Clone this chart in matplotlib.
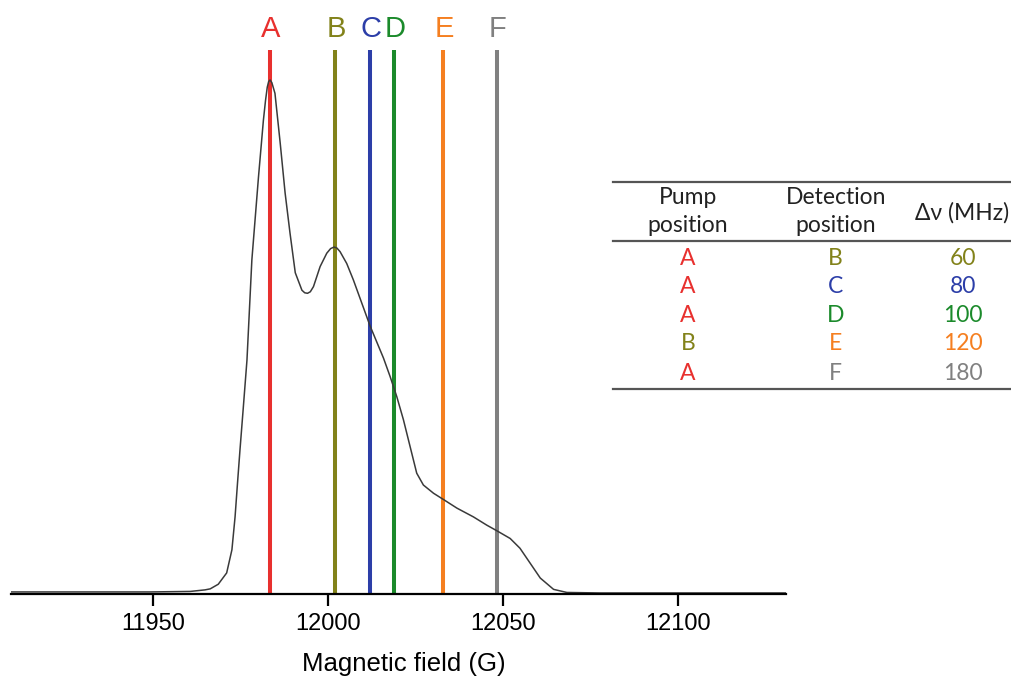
import matplotlib
matplotlib.use("Agg")
import matplotlib.pyplot as plt
from matplotlib.lines import Line2D

# EPR spectrum (field in G, normalised intensity)
field = [11909.4, 11934.9, 11949.2, 11960.7, 11964.9, 11966.4, 11968.7, 11971.1,
         11972.6, 11973.5, 11974.2, 11974.9, 11975.8, 11976.9, 11978.3, 11980.2,
         11981.6, 11982.2, 11982.7, 11983.1, 11983.5, 11984.0, 11984.9, 11986.4,
         11987.8, 11989.2, 11990.7, 11992.6, 11993.4, 11994.2, 11995.0, 11995.9,
         11997.8, 11999.7, 12000.8, 12001.8, 12002.6, 12003.5, 12005.4,
         12007.3, 12009.7, 12012.1, 12014.0, 12015.9, 12017.8, 12019.7, 12021.6,
         12023.5, 12025.4, 12027.3, 12030.2, 12033.0, 12036.9, 12041.6, 12045.4,
         12048.3, 12052.1, 12054.9, 12057.8, 12060.7, 12064.5, 12068.3, 12077.8,
         12130.9]
intensity = [0.004, 0.004, 0.004, 0.005, 0.008, 0.010, 0.019, 0.041,
             0.086, 0.150, 0.216, 0.280, 0.358, 0.455, 0.650, 0.812,
             0.922, 0.960, 0.986, 0.997, 1.000, 0.995, 0.974, 0.877,
             0.780, 0.702, 0.625, 0.591, 0.586, 0.585, 0.588, 0.598,
             0.637, 0.663, 0.672, 0.675, 0.673, 0.666, 0.643,
             0.611, 0.566, 0.521, 0.490, 0.459, 0.423, 0.384, 0.339,
             0.287, 0.235, 0.212, 0.196, 0.184, 0.167, 0.150, 0.134,
             0.123, 0.108, 0.089, 0.060, 0.031, 0.009, 0.003, 0.002,
             0.002]

# Pump / detection positions
pos_labels = ["A", "B", "C", "D", "E", "F"]
pos_fields = [11983.5, 12002.1, 12012.1, 12019.0, 12033.0, 12048.2]
pos_colors = ["#E8302E", "#82821A", "#2C3EA8", "#1B8A2B", "#F57F20", "#808080"]

xticks = [11950, 12000, 12050, 12100]

# Table contents
pump = ["A", "A", "A", "B", "A"]
detection = ["B", "C", "D", "E", "F"]
delta_nu = ["60", "80", "100", "120", "180"]

W, H = 1011, 684
fig = plt.figure(figsize=(W / 100, H / 100), dpi=100)

def fx(px):
    return px / W

def fy(py):
    return 1 - py / H

ax = fig.add_axes([fx(10.7), fy(594), fx(786) - fx(10.7), fy(20) - fy(594)])
ax.set_xlim(11909.4, 12130.9)
ax.set_ylim(0, 1.1167)

for lab, xf, col in zip(pos_labels, pos_fields, pos_colors):
    ax.vlines(xf, 0, 1.058, color=col, lw=2.9, zorder=2)
    ax.text(xf + 0.3, 1.10, lab, color=col, ha="center", va="center",
            fontsize=21, family="Liberation Sans")

ax.plot(field, intensity, color="#3a3a3a", lw=1.1, zorder=3)

for s in ["left", "right", "top"]:
    ax.spines[s].set_visible(False)
ax.spines["bottom"].set_linewidth(1.6)
ax.spines["bottom"].set_zorder(4)
ax.set_yticks([])
ax.set_xticks(xticks)
ax.set_xticklabels([str(t) for t in xticks], fontsize=17, family="Liberation Sans")
ax.tick_params(axis="x", length=8.5, width=1.6, pad=5, color="black")

fig.text(fx(404), fy(664), "Magnetic field (G)", ha="center", va="center",
         fontsize=18.5, family="Liberation Sans")

# Table rules
rule_kw = dict(color="#555555", lw=1.6, transform=fig.transFigure)
fig.add_artist(Line2D([fx(613), fx(1011)], [fy(181.7), fy(181.7)], **rule_kw))
fig.add_artist(Line2D([fx(613), fx(1011)], [fy(241), fy(241)], **rule_kw))
fig.add_artist(Line2D([fx(613), fx(1011)], [fy(389), fy(389)], **rule_kw))

tfont = dict(family="Lato", fontsize=16.5, ha="center", va="center")
col_x = [688, 835.7, 963]
fig.text(fx(col_x[0]), fy(198), "Pump", color="#222222", **tfont)
fig.text(fx(col_x[0]), fy(225), "position", color="#222222", **tfont)
fig.text(fx(col_x[1]), fy(198), "Detection", color="#222222", **tfont)
fig.text(fx(col_x[1]), fy(225), "position", color="#222222", **tfont)
fig.text(fx(1009), fy(213), "Δν (MHz)", color="#222222", family="Lato",
         fontsize=16.5, ha="right", va="center")

color_of = dict(zip(pos_labels, pos_colors))
row_y = [258.3, 286.7, 315, 343.3, 373.3]
for p, d, dn, yy in zip(pump, detection, delta_nu, row_y):
    fig.text(fx(col_x[0]), fy(yy), p, color=color_of[p], **tfont)
    fig.text(fx(col_x[1]), fy(yy), d, color=color_of[d], **tfont)
    fig.text(fx(col_x[2]), fy(yy), dn, color=color_of[d], **tfont)

fig.savefig("out.png", dpi=100)
